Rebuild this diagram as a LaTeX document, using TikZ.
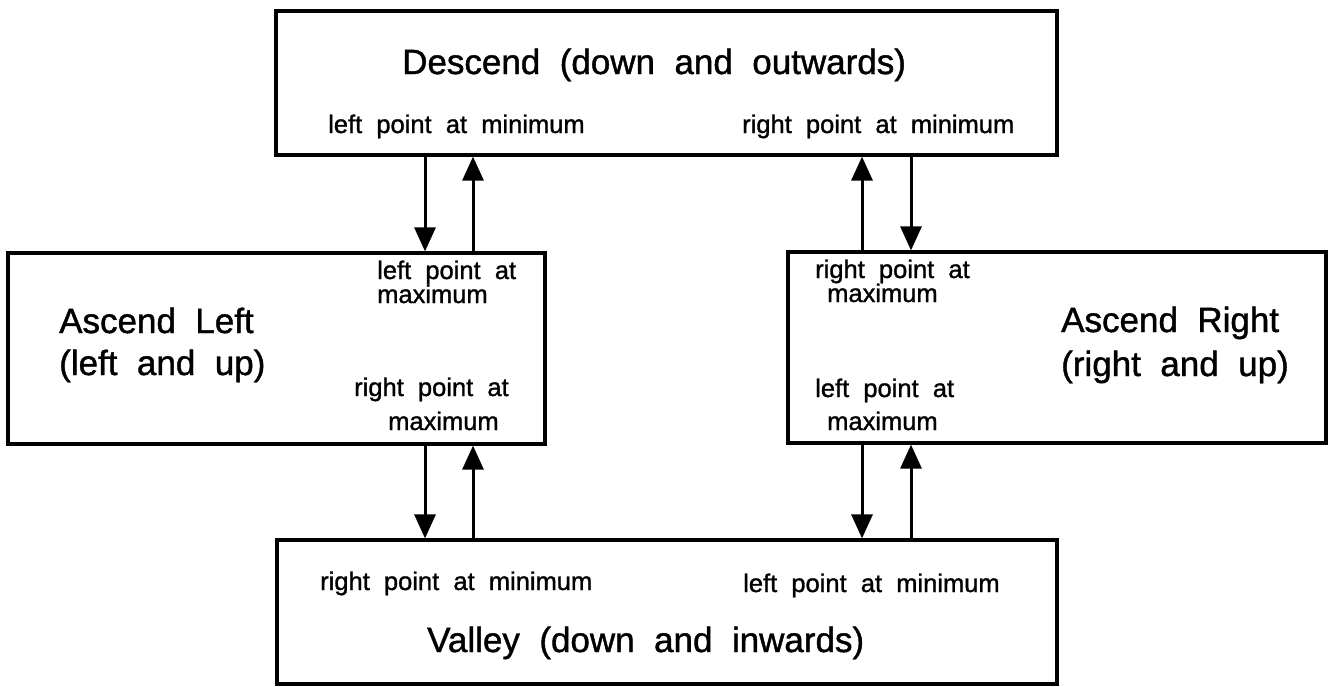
\documentclass[tikz,border=0pt]{standalone}
\usepackage{fontspec}
\setmainfont{Liberation Sans}[WordSpace=2,FakeBold=1.2]
\usetikzlibrary{arrows.meta}
% two stacked lines whose base anchor is the first baseline
\newcommand\twolines[4]{\vtop{\baselineskip=#1\relax\lineskiplimit=-100pt\relax
  \hbox{#3}\hbox{\hspace*{#2}#4}}}
\begin{document}
\begin{tikzpicture}[x=1pt,y=-1pt,
  box/.style={draw,line width=3.2pt,rectangle,inner sep=0pt},
  big/.style={font=\fontsize{35}{42}\selectfont,inner sep=0pt,anchor=base west},
  small/.style={font=\fontsize{25.5}{30}\selectfont,inner sep=0pt,anchor=base west},
  arr/.style={line width=3pt,-{Triangle[length=24pt,width=21pt]}}]
\useasboundingbox (0,0) rectangle (1328,686);

% state boxes
\node[box,minimum width=781pt,minimum height=144pt] (top) at (666.5,83) {};
\node[box,minimum width=537pt,minimum height=191pt] (asl) at (276.5,348.5) {};
\node[box,minimum width=538pt,minimum height=191pt] (asr) at (1057,347.5) {};
\node[box,minimum width=780pt,minimum height=144pt] (val) at (667,612) {};

% Descend
\node[big] (toptitle) at (402,74) {Descend (down and outwards)};
\node[small] (toplmin) at (328,133) {left point at minimum};
\node[small] (toprmin) at (742,133) {right point at minimum};

% Ascend Left
\node[big] (asltitle) at (59,333) {\twolines{42pt}{0pt}{Ascend Left}{(left and up)}};
\node[small] (asllmax) at (377,279) {\twolines{24pt}{0pt}{left point at}{maximum}};
\node[small] (aslrmax) at (354,396) {\twolines{34pt}{34pt}{right point at}{maximum}};

% Ascend Right
\node[big] (asrtitle) at (1061,332) {\twolines{44pt}{0pt}{Ascend Right}{(right and up)}};
\node[small] (asrrmax) at (815,278) {\twolines{24pt}{12pt}{right point at}{maximum}};
\node[small] (asrlmax) at (815,397) {\twolines{33pt}{12pt}{left point at}{maximum}};

% Valley
\node[small] (valrmin) at (320,590) {right point at minimum};
\node[small] (vallmin) at (743,592) {left point at minimum};
\node[big] (valtitle) at (427,652) {Valley (down and inwards)};

% columns of the connectors
\coordinate (c1) at (425,0);
\coordinate (c2) at (473,0);
\coordinate (c3) at (862,0);
\coordinate (c4) at (911,0);

% transitions
\draw[arr] (c1 |- top.south) -- (c1 |- asl.north);
\draw[arr] (c2 |- asl.north) -- (c2 |- top.south);
\draw[arr] (c3 |- asr.north) -- (c3 |- top.south);
\draw[arr] (c4 |- top.south) -- (c4 |- asr.north);
\draw[arr] (c1 |- asl.south) -- (c1 |- val.north);
\draw[arr] (c2 |- val.north) -- (c2 |- asl.south);
\draw[arr] (c3 |- asr.south) -- (c3 |- val.north);
\draw[arr] (c4 |- val.north) -- (c4 |- asr.south);
\end{tikzpicture}
\end{document}
